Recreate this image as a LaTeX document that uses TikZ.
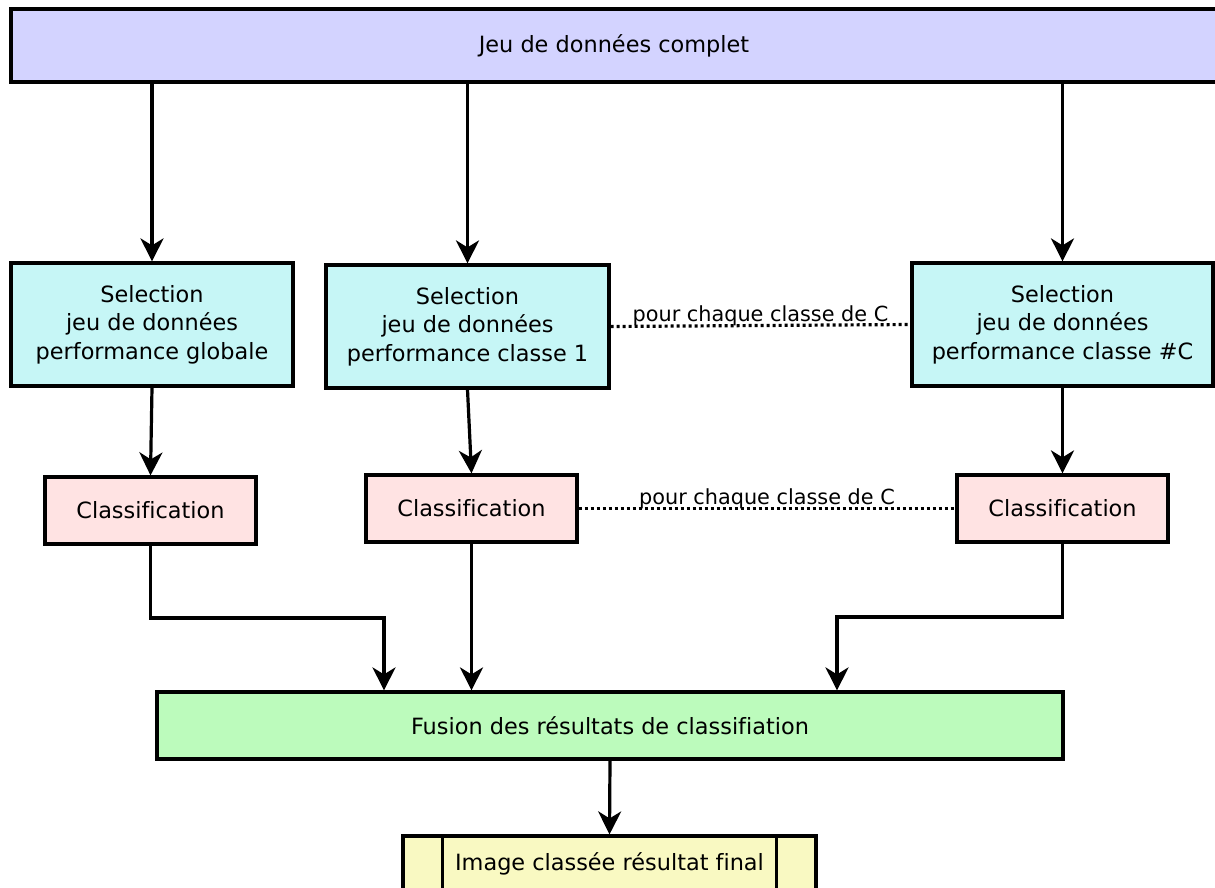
\documentclass[tikz,border=0pt]{standalone}
\usepackage{fontspec}
\setmainfont[Ligatures=NoCommon]{DejaVu Sans}
\usetikzlibrary{arrows.meta}
\definecolor{lavande}{HTML}{D3D3FF}
\definecolor{cyanpale}{HTML}{C6F6F6}
\definecolor{rosepale}{HTML}{FFE3E3}
\definecolor{vertpale}{HTML}{BCFBBC}
\definecolor{jaunepale}{HTML}{F9F9C2}

\begin{document}
\begin{tikzpicture}[x=0.5pt,y=-0.5pt,>={Stealth[length=11.5pt,width=11.5pt,inset=3.5pt]},
  font=\fontsize{11.2}{14.25}\selectfont,line width=1.6pt,
  box/.style={draw,line width=1.6pt,align=center,inner sep=0pt},
  selbox/.style={box,fill=cyanpale,minimum height=61.5pt},
  clsbox/.style={box,fill=rosepale,minimum width=105.5pt,minimum height=33.5pt},
  pourchaque/.style={dash pattern=on 1.5pt off 1.5pt},
  lbl/.style={font=\fontsize{10.4}{12}\selectfont,anchor=base,yshift=2pt}]
  \useasboundingbox (0,0) rectangle (1215,888);
  \clip (0,0) rectangle (1215,888);
  \node[box,fill=lavande,minimum width=605.5pt,minimum height=36.5pt] (data) at (616.5,45.5) {};
  \node at (614,45.5) {Jeu de données complet};
  \node[selbox,minimum width=141pt] (selG) at (152,324.5) {Selection\\jeu de données\\performance globale};
  \node[selbox,minimum width=141.5pt] (sel1) at (467.5,326.5) {Selection\\jeu de données\\performance classe 1};
  \node[selbox,minimum width=150.5pt] (selC) at (1062.5,324.5) {Selection\\jeu de données\\performance classe \#C};
  \node[clsbox] (clsG) at (150.5,510.5) {Classification};
  \node[clsbox] (cls1) at (471.5,508.5) {Classification};
  \node[clsbox] (clsC) at (1062.5,508.5) {Classification};
  \node[box,fill=vertpale,minimum width=453pt,minimum height=33.5pt] (fusion) at (610,725.5) {Fusion des résultats de classifiation};
  \node[box,fill=jaunepale,minimum width=206.5pt,minimum height=28pt] (img) at (609.5,864) {Image classée résultat final};
  \draw ([xshift=20.5pt]img.north west) -- ([xshift=20.5pt]img.south west);
  \draw ([xshift=-20.5pt]img.north east) -- ([xshift=-20.5pt]img.south east);
  \coordinate (coudeG) at (384,618);
  \coordinate (coudeC) at (837,617);
  \draw[->] (data.south -| selG.north) -- (selG.north);
  \draw[->] (data.south -| sel1.north) -- (sel1.north);
  \draw[->] (data.south -| selC.north) -- (selC.north);
  \draw[->] (selG.south) -- (clsG.north);
  \draw[->] (sel1.south) -- (cls1.north);
  \draw[->] (selC.south) -- (clsC.north);
  \draw[->] (clsG.south) |- (coudeG) -- (coudeG |- fusion.north);
  \draw[->] (cls1.south) -- (cls1.south |- fusion.north);
  \draw[->] (clsC.south) |- (coudeC) -- (coudeC |- fusion.north);
  \draw[->] (fusion.south) -- (img.north);
  \draw[pourchaque] (sel1.east) -- node[lbl] {pour chaque classe de C} (selC.west);
  \draw[pourchaque] (cls1.east) -- node[lbl] {pour chaque classe de C} (clsC.west);
\end{tikzpicture}
\end{document}
